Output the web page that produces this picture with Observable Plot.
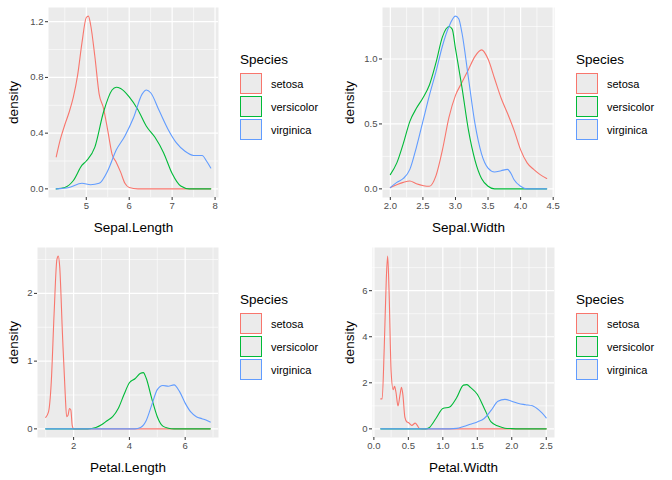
<!DOCTYPE html>
<html><head><meta charset="utf-8">
<script src="https://cdn.jsdelivr.net/npm/d3@7"></script>
<script src="https://cdn.jsdelivr.net/npm/@observablehq/plot@0.6"></script>
<style>
body{margin:0;background:#fff;font-family:"Liberation Sans",Arial,sans-serif;}
#wrap{display:grid;grid-template-columns:336px 336px;grid-template-rows:240px 240px;width:672px;}
.cell{position:relative;width:336px;height:240px;}
.leg{position:absolute;left:240px;top:52px;font-size:13.5px;color:#000;}
.key{display:flex;align-items:center;height:23px;font-size:11px;}
.box{width:20px;height:19px;background:#ebebeb;border:1.3px solid;margin-right:9px;}
</style></head><body><div id="wrap"></div>
<script>
const species = ["setosa","versicolor","virginica"];
const colors = ["#F8766D","#00BA38","#619CFF"];

const slSetosa = [[4.3,0.23],[4.4,0.36],[4.5,0.46],[4.6,0.55],[4.7,0.66],[4.8,0.82],[4.9,1.05],[5.0,1.23],[5.05,1.24],[5.1,1.18],[5.2,0.95],[5.3,0.68],[5.4,0.58],[5.5,0.42],[5.6,0.25],[5.7,0.19],[5.8,0.12],[5.9,0.04],[6.0,0.01],[6.2,0],[7.9,0]];
const slVersicolor = [[4.3,0],[4.5,0.01],[4.7,0.06],[4.9,0.17],[5.0,0.2],[5.2,0.3],[5.4,0.55],[5.6,0.71],[5.7,0.73],[5.8,0.72],[6.0,0.66],[6.2,0.57],[6.4,0.45],[6.6,0.37],[6.8,0.26],[7.0,0.11],[7.2,0.02],[7.4,0],[7.9,0]];
const slVirginica = [[4.3,0],[4.6,0.01],[4.9,0.04],[5.1,0.03],[5.3,0.04],[5.5,0.13],[5.7,0.28],[5.9,0.38],[6.1,0.51],[6.3,0.68],[6.4,0.71],[6.5,0.69],[6.7,0.56],[6.9,0.43],[7.1,0.33],[7.3,0.27],[7.5,0.24],[7.7,0.24],[7.8,0.2],[7.9,0.15]];

const swSetosa = [[2.0,0.01],[2.2,0.05],[2.3,0.06],[2.4,0.04],[2.6,0.02],[2.7,0.1],[2.8,0.3],[2.9,0.55],[3.0,0.72],[3.1,0.82],[3.2,0.92],[3.3,1.02],[3.4,1.07],[3.5,1.0],[3.6,0.85],[3.7,0.7],[3.8,0.58],[3.9,0.45],[4.0,0.3],[4.1,0.2],[4.2,0.15],[4.3,0.11],[4.4,0.08]];
const swVersicolor = [[2.0,0.11],[2.1,0.2],[2.2,0.35],[2.3,0.52],[2.4,0.62],[2.5,0.7],[2.6,0.8],[2.7,0.97],[2.8,1.17],[2.9,1.25],[2.95,1.23],[3.0,1.08],[3.1,0.78],[3.2,0.45],[3.3,0.22],[3.4,0.08],[3.5,0.02],[3.6,0],[4.4,0]];
const swVirginica = [[2.0,0.01],[2.1,0.05],[2.2,0.08],[2.3,0.15],[2.4,0.32],[2.5,0.52],[2.6,0.72],[2.7,0.9],[2.8,1.1],[2.9,1.25],[3.0,1.33],[3.05,1.31],[3.1,1.2],[3.2,0.85],[3.3,0.5],[3.4,0.27],[3.5,0.16],[3.6,0.13],[3.7,0.14],[3.8,0.15],[3.85,0.12],[3.9,0.07],[4.0,0.02],[4.1,0],[4.4,0]];

const plSetosa = [[1.0,0.17],[1.1,0.25],[1.2,0.7],[1.3,1.7],[1.4,2.5],[1.45,2.55],[1.5,2.4],[1.6,1.4],[1.7,0.5],[1.75,0.18],[1.8,0.2],[1.85,0.3],[1.9,0.28],[1.95,0.05],[2.0,0],[6.9,0]];
const plVersicolor = [[1.0,0],[2.5,0],[2.8,0.02],[3.0,0.06],[3.2,0.12],[3.4,0.18],[3.6,0.3],[3.8,0.5],[4.0,0.68],[4.2,0.74],[4.4,0.82],[4.5,0.83],[4.6,0.75],[4.8,0.45],[5.0,0.18],[5.2,0.04],[5.4,0.01],[5.6,0],[6.9,0]];
const plVirginica = [[1.0,0],[4.2,0],[4.4,0.02],[4.6,0.12],[4.8,0.35],[5.0,0.58],[5.2,0.64],[5.4,0.63],[5.6,0.65],[5.8,0.55],[6.0,0.38],[6.2,0.25],[6.4,0.18],[6.6,0.15],[6.8,0.12],[6.9,0.1]];

const pwSetosa = [[0.1,1.3],[0.12,1.3],[0.15,3.5],[0.18,6.5],[0.2,7.5],[0.22,6.0],[0.25,2.5],[0.28,1.7],[0.3,1.85],[0.32,1.6],[0.35,1.0],[0.38,1.5],[0.4,1.8],[0.42,1.5],[0.45,0.5],[0.48,0.3],[0.5,0.28],[0.55,0.15],[0.6,0.25],[0.63,0.15],[0.66,0.02],[0.7,0],[2.5,0]];
const pwVersicolor = [[0.1,0],[0.75,0],[0.8,0.05],[0.9,0.45],[1.0,0.88],[1.1,0.95],[1.2,1.35],[1.3,1.9],[1.35,1.92],[1.4,1.8],[1.5,1.5],[1.6,0.9],[1.7,0.3],[1.8,0.12],[1.9,0.03],[2.0,0.01],[2.1,0],[2.5,0]];
const pwVirginica = [[0.1,0],[1.1,0],[1.2,0.02],[1.3,0.1],[1.4,0.2],[1.5,0.3],[1.6,0.45],[1.7,0.8],[1.8,1.2],[1.9,1.28],[2.0,1.2],[2.1,1.1],[2.2,1.05],[2.3,1.0],[2.4,0.8],[2.5,0.48]];

const panels = [
 {label:"Sepal.Length", series:[slSetosa,slVersicolor,slVirginica], xr:[4.3,7.9], ymax:1.24, xt:[5,6,7,8], yt:[0,0.4,0.8,1.2], yfmt:d3.format(".1f"), xfmt:d3.format("d"), ml:48},
 {label:"Sepal.Width", series:[swSetosa,swVersicolor,swVirginica], xr:[2.0,4.4], ymax:1.33, xt:[2,2.5,3,3.5,4,4.5], yt:[0,0.5,1.0], yfmt:d3.format(".1f"), xfmt:d3.format(".1f"), ml:46},
 {label:"Petal.Length", series:[plSetosa,plVersicolor,plVirginica], xr:[1.0,6.9], ymax:2.55, xt:[2,4,6], yt:[0,1,2], yfmt:d3.format("d"), xfmt:d3.format("d"), ml:37},
 {label:"Petal.Width", series:[pwSetosa,pwVersicolor,pwVirginica], xr:[0.1,2.5], ymax:7.5, xt:[0,0.5,1,1.5,2,2.5], yt:[0,2,4,6], yfmt:d3.format("d"), xfmt:d3.format(".1f"), ml:36}
];

function mids(t, dom){
  const step=t[1]-t[0]; const out=[];
  for(let v=t[0]-step/2; v<=dom[1]; v+=step) if(v>=dom[0]) out.push(v);
  return out;
}

const wrap=document.getElementById("wrap");
panels.forEach(p=>{
  const pad=(p.xr[1]-p.xr[0])*0.05;
  const xd=[p.xr[0]-pad,p.xr[1]+pad];
  const yd=[-p.ymax*0.05,p.ymax*1.05];
  const rows=[];
  p.series.forEach((s,i)=>s.forEach(([x,y])=>rows.push({x,y,sp:species[i]})));
  const chart=Plot.plot({
    width:218,height:240,marginLeft:p.ml,marginRight:0,marginTop:7,marginBottom:43,
    style:{fontFamily:"Liberation Sans, Arial, sans-serif",background:"transparent",overflow:"visible"},
    x:{domain:xd},y:{domain:yd},
    color:{domain:species,range:colors},
    marks:[
      Plot.frame({fill:"#ebebeb",stroke:null}),
      Plot.ruleX(mids(p.xt,xd),{stroke:"#fff",strokeWidth:0.6,strokeOpacity:1}),
      Plot.ruleY(mids(p.yt,yd),{stroke:"#fff",strokeWidth:0.6,strokeOpacity:1}),
      Plot.ruleX(p.xt.filter(v=>v>=xd[0]&&v<=xd[1]),{stroke:"#fff",strokeWidth:1.2}),
      Plot.ruleY(p.yt,{stroke:"#fff",strokeWidth:1.2}),
      Plot.line(rows,{x:"x",y:"y",stroke:"sp",z:"sp",strokeWidth:1.1,curve:"monotone-x"}),
      Plot.axisX({ticks:p.xt,tickFormat:p.xfmt,tickSize:3,tickPadding:2,fontSize:9.5,color:"#4d4d4d",stroke:"#333",
        label:p.label,labelAnchor:"center",labelArrow:"none",labelOffset:34}),
      Plot.axisY({ticks:p.yt,tickFormat:p.yfmt,tickSize:3,tickPadding:2,fontSize:9.5,color:"#4d4d4d",stroke:"#333",
        label:"density",labelAnchor:"center",labelArrow:"none",labelOffset:p.ml-8})
    ]
  });
  chart.querySelectorAll("g[aria-label='x-axis label'] text, g[aria-label='y-axis label'] text").forEach(t=>{t.style.fontSize="13.5px";t.style.fill="#000";});
  const cell=document.createElement("div");cell.className="cell";
  cell.appendChild(chart);
  const leg=document.createElement("div");leg.className="leg";
  leg.innerHTML='<div style="margin-bottom:5px">Species</div>'+species.map((s,i)=>`<div class="key"><div class="box" style="border-color:${colors[i]}"></div>${s}</div>`).join("");
  cell.appendChild(leg);
  wrap.appendChild(cell);
});
</script></body></html>
